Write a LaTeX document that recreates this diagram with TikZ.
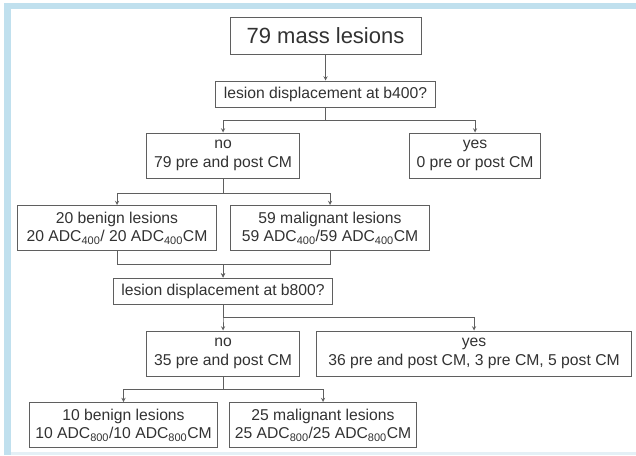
\documentclass[tikz,border=0pt]{standalone}
\usepackage{fontspec}
\setmainfont{Liberation Sans}
\usetikzlibrary{arrows,positioning}
\definecolor{framebl}{RGB}{192,224,238}
\definecolor{framelt}{RGB}{228,240,246}
\definecolor{linegr}{RGB}{95,95,95}
\definecolor{txtgr}{RGB}{50,50,50}

\begin{document}
\begin{tikzpicture}[x=1pt,y=-1pt,->,>=stealth,node distance=60pt,
  every node/.style={text=txtgr,font=\fontsize{15.7}{18.5}\selectfont,align=center,inner sep=1pt},
  box/.style={draw=linegr,line width=1pt,minimum height=45pt},
  ask/.style={box,minimum height=26pt},
  link/.style={draw=linegr,line width=0.9pt}]
  \useasboundingbox (0,0) rectangle (636,455);
  \fill[framebl] (4,3) rectangle (636,9);
  \fill[framebl] (4,3) rectangle (11,455);
  \fill[framelt] (11,452) rectangle (636,455);

  \node [box,minimum width=191pt,minimum height=37pt,font=\fontsize{22}{26}\selectfont] (0) at (325.5,35.5) {79 mass lesions};
  \node [ask,minimum width=220pt,below of=0,yshift=1.5pt] (1) {lesion displacement at b400?};
  \node [box,minimum width=153pt,below of=1,xshift=-102.5pt,yshift=-1.5pt] (2) {no\\79 pre and post CM};
  \node [box,minimum width=131pt,right of=2,xshift=192pt] (3) {yes\\0 pre or post CM};
  \node [box,minimum width=199pt,below of=2,xshift=-106pt,yshift=-12.5pt] (4) {20 benign lesions\\20 ADC\textsubscript{400}/ 20 ADC\textsubscript{400}CM};
  \node [box,minimum width=199pt,right of=4,xshift=153pt] (5) {59 malignant lesions\\59 ADC\textsubscript{400}/59 ADC\textsubscript{400}CM};
  \node [ask,minimum width=219pt,below of=4,xshift=106pt,yshift=-3pt] (6) {lesion displacement at b800?};
  \node [box,minimum width=153pt,below of=6,yshift=-2.5pt] (7) {no\\35 pre and post CM};
  \node [box,minimum width=315pt,right of=7,xshift=191pt] (8) {yes\\36 pre and post CM, 3 pre CM, 5 post CM};
  \node [box,minimum width=188pt,below of=7,xshift=-99.5pt,yshift=-11.5pt] (9) {10 benign lesions\\10 ADC\textsubscript{800}/10 ADC\textsubscript{800}CM};
  \node [box,minimum width=187pt,right of=9,xshift=139.5pt] (10) {25 malignant lesions\\25 ADC\textsubscript{800}/25 ADC\textsubscript{800}CM};

  \draw[link] (0) -- (0|-1.north);
  \draw[link] (1) -- +(0,26) -| (2);
  \draw[link] (1) -- +(0,26) -| (3);
  \draw[link] (2) -- +(0,37.5) -| (4);
  \draw[link] (2) -- +(0,37.5) -| (5);
  \draw[link] (4) -- +(0,36) -| (6);
  \draw[link] (5) -- +(0,36) -| (6);
  \draw[link] (6) -- +(0,26) -| (7);
  \draw[link] (6) -- +(0,26) -| (8);
  \draw[link] (7) -- +(0,35.5) -| (9);
  \draw[link] (7) -- +(0,35.5) -| (10);
\end{tikzpicture}
\end{document}
